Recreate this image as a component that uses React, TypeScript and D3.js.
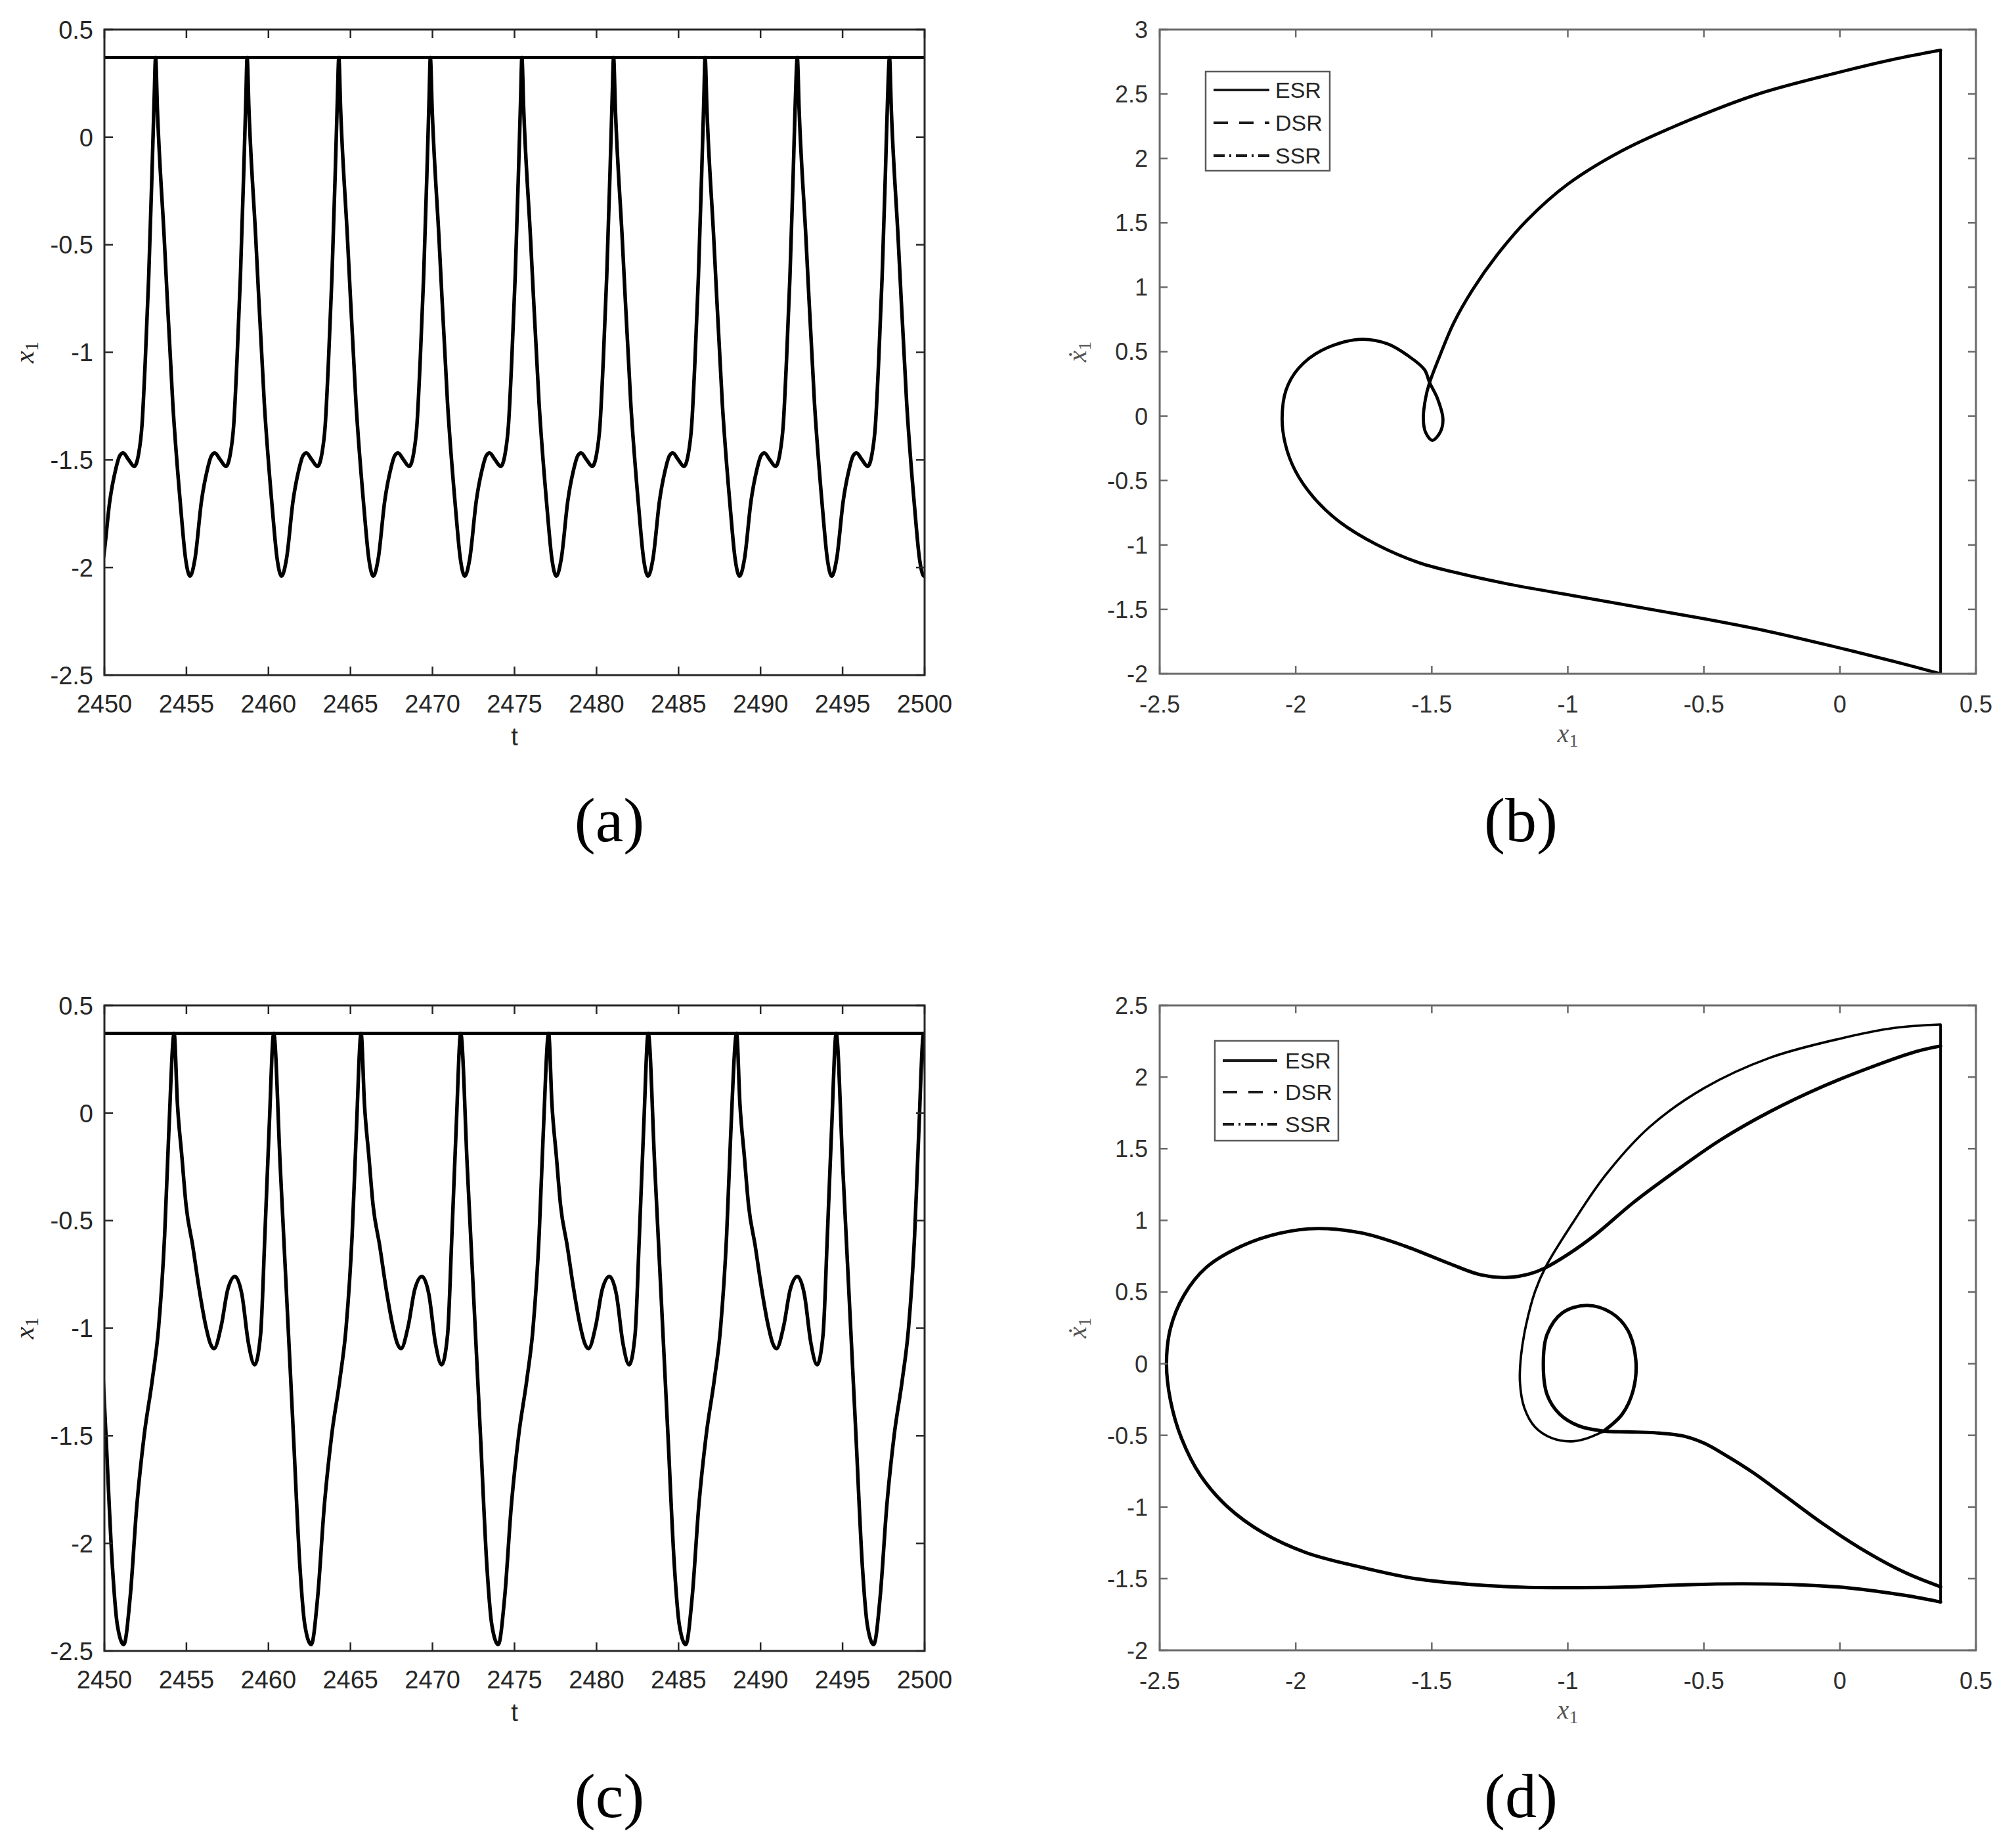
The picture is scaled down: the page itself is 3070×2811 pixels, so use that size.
import React, { useEffect } from "react";
import * as d3 from "d3";

// ---------------- data ----------------
const T_TICKS = [2450, 2455, 2460, 2465, 2470, 2475, 2480, 2485, 2490, 2495, 2500];
const X1_TICKS = [0.5, 0, -0.5, -1, -1.5, -2, -2.5];
const PHASE_X_TICKS = [-2.5, -2, -1.5, -1, -0.5, 0, 0.5];
const B_Y_TICKS = [3, 2.5, 2, 1.5, 1, 0.5, 0, -0.5, -1, -1.5, -2];
const D_Y_TICKS = [2.5, 2, 1.5, 1, 0.5, 0, -0.5, -1, -1.5, -2];
const WALL = 0.37;

// (a) peak times (first one is the partially visible cycle before 2450)
const PEAKS_A = [2447.53, 2453.12, 2458.7, 2464.29, 2469.87, 2475.45, 2481.04, 2486.62, 2492.24, 2497.86];
// (a) one cycle, time after a peak -> x1
const CYCLE_A_TAU = [0, 0.11, 0.52, 1.05, 1.53, 1.83, 2.1, 2.4, 2.8, 3.14, 3.41, 3.61, 3.95, 4.29, 4.56, 4.76, 4.96, 5.17, 5.37, 5.5];
const CYCLE_A_X1 = [0.37, 0.13, -0.46, -1.24, -1.72, -1.96, -2.04, -1.96, -1.69, -1.55, -1.48, -1.468, -1.5, -1.53, -1.47, -1.34, -1.04, -0.65, -0.17, 0.17];

// (c) times of the "A" peaks (followed by the small hump)
const PEAKS_C = [2442.82, 2454.25, 2465.65, 2477.08, 2488.54, 2499.94];
const CYCLE_C_TAU = [0, 0.2, 0.47, 0.73, 1.13, 1.53, 1.93, 2.2, 2.43, 2.87, 3.27, 3.71, 4.13, 4.53, 4.91, 5.27, 5.53, 5.8, 6.07, 6.47, 6.87, 7.27, 7.67, 7.97, 8.36, 8.75, 9.15, 9.6, 10.1, 10.48, 10.85, 11.1];
const CYCLE_C_X1 = [0.37, 0.045, -0.2, -0.43, -0.616, -0.82, -0.99, -1.07, -1.095, -0.99, -0.82, -0.76, -0.843, -1.07, -1.17, -1.03, -0.574, -0.058, 0.37, -0.25, -0.87, -1.49, -2.11, -2.38, -2.47, -2.25, -1.83, -1.5, -1.24, -1.0, -0.57, -0.1];

// (b) phase trajectory, starting at the wall after impact
const B_X = [0.37, 0.198, -0.035, -0.267, -0.5, -0.733, -0.965, -1.198, -1.391, -1.547, -1.702, -1.837, -1.934, -2.002, -2.038, -2.05, -2.036, -1.99, -1.905, -1.769, -1.663, -1.585, -1.527, -1.508, -1.479, -1.459, -1.469, -1.498, -1.523, -1.531, -1.523, -1.508, -1.47, -1.42, -1.35, -1.26, -1.15, -1.0, -0.8, -0.55, -0.3, 0, 0.2, 0.37];
const B_V = [-2.0, -1.904, -1.782, -1.669, -1.573, -1.486, -1.399, -1.312, -1.225, -1.138, -0.998, -0.824, -0.632, -0.423, -0.22, -0.02, 0.2, 0.37, 0.51, 0.595, 0.561, 0.465, 0.361, 0.26, 0.136, -0.021, -0.125, -0.188, -0.125, -0.021, 0.136, 0.26, 0.47, 0.72, 0.98, 1.25, 1.52, 1.8, 2.06, 2.3, 2.5, 2.67, 2.77, 2.84];

// (d) phase trajectory, three pieces
const D1_X = [0.37, 0.24, 0.04, -0.16, -0.36, -0.56, -0.76, -0.96, -1.16, -1.36, -1.56, -1.76, -1.96, -2.12, -2.25, -2.35, -2.42, -2.46, -2.475, -2.46, -2.41, -2.33, -2.2, -2.06, -1.92, -1.76, -1.6, -1.44, -1.32, -1.22, -1.14, -1.086, -1.0, -0.9, -0.76, -0.6, -0.44, -0.26, -0.06, 0.14, 0.28, 0.37];
const D1_V = [-1.663, -1.617, -1.566, -1.542, -1.536, -1.542, -1.557, -1.563, -1.56, -1.54, -1.5, -1.42, -1.32, -1.18, -1.0, -0.78, -0.52, -0.26, 0.0, 0.25, 0.48, 0.67, 0.82, 0.91, 0.943, 0.913, 0.822, 0.702, 0.62, 0.602, 0.627, 0.666, 0.762, 0.898, 1.123, 1.349, 1.56, 1.756, 1.937, 2.087, 2.178, 2.217];
const D2_X = [0.37, 0.24, 0.1, -0.06, -0.2, -0.32, -0.42, -0.5, -0.58, -0.68, -0.78, -0.87, -0.96, -1.03, -1.076, -1.09, -1.076, -1.02, -0.93, -0.84, -0.78, -0.75, -0.76, -0.8, -0.87];
const D2_V = [-1.557, -1.458, -1.316, -1.12, -0.925, -0.759, -0.639, -0.554, -0.503, -0.482, -0.476, -0.47, -0.434, -0.352, -0.217, 0.006, 0.205, 0.355, 0.407, 0.355, 0.235, 0.024, -0.187, -0.352, -0.473];
const D3_X = [-0.87, -0.94, -0.99, -1.06, -1.12, -1.16, -1.176, -1.172, -1.154, -1.12, -1.08, -0.98, -0.86, -0.7, -0.5, -0.26, 0, 0.2, 0.37];
const D3_V = [-0.473, -0.527, -0.542, -0.518, -0.443, -0.307, -0.127, 0.054, 0.265, 0.506, 0.68, 0.988, 1.319, 1.651, 1.922, 2.133, 2.268, 2.343, 2.367];

const LEGEND_LABELS = ["ESR", "DSR", "SSR"];
const LEGEND_DASH = ["none", "22,17", "17,7,3,7"];

// ---------------- styling / layout ----------------
const SANS = "'Liberation Sans', Arial, Helvetica, sans-serif";
const SERIF = "'Liberation Serif', 'Times New Roman', Times, serif";

type Box = { x0: number; x1: number; y0: number; y1: number };
type Pt = [number, number];

const BOX_A: Box = { x0: 159, x1: 1408, y0: 45, y1: 1028 };
const BOX_B: Box = { x0: 1766, x1: 3009, y0: 45, y1: 1026 };
const BOX_C: Box = { x0: 159, x1: 1408, y0: 1531, y1: 2514 };
const BOX_D: Box = { x0: 1766, x1: 3009, y0: 1531, y1: 2513 };

function tile(peaks: number[], tau: number[], vals: number[]): Pt[] {
  const out: Pt[] = [];
  peaks.forEach((p) => tau.forEach((t, i) => out.push([p + t, vals[i]])));
  return out;
}
function zip(xs: number[], ys: number[]): Pt[] {
  return xs.map((x, i) => [x, ys[i]] as Pt);
}
const fmt = (v: number) => String(v);

function TimePanel(props: { box: Box; peaks: number[]; tau: number[]; vals: number[]; id: string; tag: string; tagX: number; tagY: number }) {
  const { box, id } = props;
  const x = d3.scaleLinear().domain([T_TICKS[0], T_TICKS[T_TICKS.length - 1]]).range([box.x0, box.x1]);
  const y = d3.scaleLinear().domain([X1_TICKS[X1_TICKS.length - 1], X1_TICKS[0]]).range([box.y1, box.y0]);
  const pts = tile(props.peaks, props.tau, props.vals);
  const d = d3.line<Pt>().x((p) => x(p[0])).y((p) => y(p[1])).curve(d3.curveMonotoneX)(pts) || "";
  const ax = "#262626";
  const tl = 13;
  const cy = (box.y0 + box.y1) / 2;
  return (
    <g>
      <defs>
        <clipPath id={id}>
          <rect x={box.x0} y={box.y0} width={box.x1 - box.x0} height={box.y1 - box.y0} />
        </clipPath>
      </defs>
      <g clipPath={`url(#${id})`}>
        <path d={d} fill="none" stroke="#000" strokeWidth={5.5} strokeLinejoin="round" />
        <line x1={x(T_TICKS[0])} x2={x(T_TICKS[T_TICKS.length - 1])} y1={y(WALL)} y2={y(WALL)} stroke="#000" strokeWidth={5} />
      </g>
      {T_TICKS.map((t) => (
        <g key={"xt" + t}>
          <line x1={x(t)} x2={x(t)} y1={box.y1} y2={box.y1 - tl} stroke={ax} strokeWidth={2.5} />
          <line x1={x(t)} x2={x(t)} y1={box.y0} y2={box.y0 + tl} stroke={ax} strokeWidth={2.5} />
          <text x={x(t)} y={box.y1 + 57} textAnchor="middle" fontFamily={SANS} fontSize={38} fill={ax}>{fmt(t)}</text>
        </g>
      ))}
      {X1_TICKS.map((v) => (
        <g key={"yt" + v}>
          <line x1={box.x0} x2={box.x0 + tl} y1={y(v)} y2={y(v)} stroke={ax} strokeWidth={2.5} />
          <line x1={box.x1} x2={box.x1 - tl} y1={y(v)} y2={y(v)} stroke={ax} strokeWidth={2.5} />
          <text x={box.x0 - 17} y={y(v)} dy="0.36em" textAnchor="end" fontFamily={SANS} fontSize={38} fill={ax}>{fmt(v)}</text>
        </g>
      ))}
      <rect x={box.x0} y={box.y0} width={box.x1 - box.x0} height={box.y1 - box.y0} fill="none" stroke={ax} strokeWidth={3} />
      <text x={(box.x0 + box.x1) / 2} y={box.y1 + 107} textAnchor="middle" fontFamily={SANS} fontSize={38} fill={ax}>t</text>
      <text transform={`translate(${box.x0 - 108},${cy}) rotate(-90)`} textAnchor="middle" fontFamily={SERIF} fontSize={42} fill={ax}>
        <tspan fontStyle="italic">x</tspan>
        <tspan fontSize={29} dy={7}>1</tspan>
      </text>
      <text x={props.tagX} y={props.tagY} textAnchor="middle" fontFamily={SERIF} fontSize={96} fill="#000">{props.tag}</text>
    </g>
  );
}

function Legend(props: { x: number; y: number; w: number; h: number; rows: number[]; lx0: number; lx1: number; tx: number }) {
  return (
    <g>
      <rect x={props.x} y={props.y} width={props.w} height={props.h} fill="#fff" stroke="#5a5a5a" strokeWidth={2.5} />
      {LEGEND_LABELS.map((lab, i) => (
        <g key={lab}>
          <line x1={props.lx0} x2={props.lx1} y1={props.rows[i]} y2={props.rows[i]} stroke="#1a1a1a" strokeWidth={4} strokeDasharray={LEGEND_DASH[i]} />
          <text x={props.tx} y={props.rows[i]} dy="0.36em" fontFamily={SANS} fontSize={34} fill="#262626">{lab}</text>
        </g>
      ))}
    </g>
  );
}

function PhasePanel(props: {
  box: Box; yTicks: number[]; id: string; tag: string; tagX: number; tagY: number;
  thick: Pt[][]; thin: Pt[][]; wallFrom: number; wallTo: number; thickW: number; thinW: number;
  legend: { x: number; y: number; w: number; h: number; rows: number[]; lx0: number; lx1: number; tx: number };
}) {
  const { box, yTicks, id } = props;
  const x = d3.scaleLinear().domain([PHASE_X_TICKS[0], PHASE_X_TICKS[PHASE_X_TICKS.length - 1]]).range([box.x0, box.x1]);
  const y = d3.scaleLinear().domain([yTicks[yTicks.length - 1], yTicks[0]]).range([box.y1, box.y0]);
  const line = d3.line<Pt>().x((p) => x(p[0])).y((p) => y(p[1])).curve(d3.curveCatmullRom.alpha(0.5));
  const ax = "#6a6a6a";
  const lab = "#303030";
  const tl = 12;
  const cy = (box.y0 + box.y1) / 2;
  return (
    <g>
      <defs>
        <clipPath id={id}>
          <rect x={box.x0} y={box.y0} width={box.x1 - box.x0} height={box.y1 - box.y0} />
        </clipPath>
      </defs>
      <g clipPath={`url(#${id})`}>
        {props.thick.map((pts, i) => (
          <path key={"k" + i} d={line(pts) || ""} fill="none" stroke="#000" strokeWidth={props.thickW} strokeLinejoin="round" strokeLinecap="round" />
        ))}
        {props.thin.map((pts, i) => (
          <path key={"n" + i} d={line(pts) || ""} fill="none" stroke="#000" strokeWidth={props.thinW} strokeLinejoin="round" strokeLinecap="round" />
        ))}
        <line x1={x(WALL)} x2={x(WALL)} y1={y(props.wallFrom)} y2={y(props.wallTo)} stroke="#000" strokeWidth={4} />
      </g>
      {PHASE_X_TICKS.map((t) => (
        <g key={"xt" + t}>
          <line x1={x(t)} x2={x(t)} y1={box.y1} y2={box.y1 - tl} stroke={ax} strokeWidth={2.5} />
          <line x1={x(t)} x2={x(t)} y1={box.y0} y2={box.y0 + tl} stroke={ax} strokeWidth={2.5} />
          <text x={x(t)} y={box.y1 + 59} textAnchor="middle" fontFamily={SANS} fontSize={36} fill={lab}>{fmt(t)}</text>
        </g>
      ))}
      {yTicks.map((v) => (
        <g key={"yt" + v}>
          <line x1={box.x0} x2={box.x0 + tl} y1={y(v)} y2={y(v)} stroke={ax} strokeWidth={2.5} />
          <line x1={box.x1} x2={box.x1 - tl} y1={y(v)} y2={y(v)} stroke={ax} strokeWidth={2.5} />
          <text x={box.x0 - 18} y={y(v)} dy="0.36em" textAnchor="end" fontFamily={SANS} fontSize={36} fill={lab}>{fmt(v)}</text>
        </g>
      ))}
      <rect x={box.x0} y={box.y0} width={box.x1 - box.x0} height={box.y1 - box.y0} fill="none" stroke={ax} strokeWidth={3} />
      <Legend {...props.legend} />
      <text x={(box.x0 + box.x1) / 2} y={box.y1 + 104} textAnchor="middle" fontFamily={SERIF} fontSize={40} fill="#555">
        <tspan fontStyle="italic">x</tspan>
        <tspan fontSize={28} dy={7}>1</tspan>
      </text>
      <text transform={`translate(${box.x0 - 112},${cy}) rotate(-90)`} textAnchor="middle" fontFamily={SERIF} fontSize={40} fill="#555">
        <tspan fontStyle="italic">{"\u1E8B"}</tspan>
        <tspan fontSize={28} dy={7}>1</tspan>
      </text>
      <text x={props.tagX} y={props.tagY} textAnchor="middle" fontFamily={SERIF} fontSize={96} fill="#000">{props.tag}</text>
    </g>
  );
}

export default function App() {
  useEffect(() => {
    document.body.style.margin = "0";
    document.body.style.background = "#fff";
  }, []);
  return (
    <svg width={3070} height={2811} viewBox="0 0 3070 2811" style={{ position: "absolute", left: 0, top: 0, background: "#fff" }}>
      <rect x={0} y={0} width={3070} height={2811} fill="#fff" />
      <TimePanel box={BOX_A} peaks={PEAKS_A} tau={CYCLE_A_TAU} vals={CYCLE_A_X1} id="clipA" tag="(a)" tagX={928} tagY={1281} />
      <TimePanel box={BOX_C} peaks={PEAKS_C} tau={CYCLE_C_TAU} vals={CYCLE_C_X1} id="clipC" tag="(c)" tagX={928} tagY={2767} />
      <PhasePanel
        box={BOX_B}
        yTicks={B_Y_TICKS}
        id="clipB"
        tag="(b)"
        tagX={2316}
        tagY={1281}
        thick={[zip(B_X, B_V)]}
        thin={[]}
        wallFrom={-2.0}
        wallTo={2.84}
        thickW={4.8}
        thinW={3.5}
        legend={{ x: 1836, y: 109, w: 189, h: 151, rows: [137, 187, 237], lx0: 1848, lx1: 1933, tx: 1942 }}
      />
      <PhasePanel
        box={BOX_D}
        yTicks={D_Y_TICKS}
        id="clipD"
        tag="(d)"
        tagX={2316}
        tagY={2767}
        thick={[zip(D1_X, D1_V), zip(D2_X, D2_V)]}
        thin={[zip(D3_X, D3_V)]}
        wallFrom={-1.663}
        wallTo={2.367}
        thickW={5.2}
        thinW={3.6}
        legend={{ x: 1850, y: 1585, w: 188, h: 152, rows: [1615, 1663, 1712], lx0: 1862, lx1: 1945, tx: 1957 }}
      />
    </svg>
  );
}
